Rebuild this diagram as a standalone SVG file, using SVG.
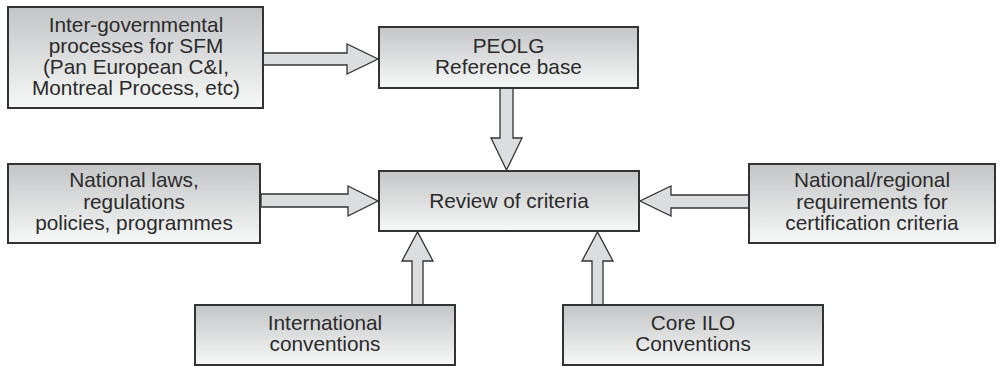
<svg xmlns="http://www.w3.org/2000/svg" width="1004" height="366" viewBox="0 0 1004 366">
  <defs>
    <linearGradient id="boxFill" x1="0" y1="0" x2="0" y2="1">
      <stop offset="0" stop-color="#c4c5c6"/>
      <stop offset="1" stop-color="#f6f7f7"/>
    </linearGradient>
  </defs>
  <style>
    .box { fill: url(#boxFill); stroke: #333; stroke-width: 2; }
    .arrow { fill: #dcddde; stroke: #333; stroke-width: 1.3; stroke-linejoin: miter; }
    text { font-family: "Liberation Sans", Arial, sans-serif; font-size: 20.8px; fill: #2b2b2b; text-anchor: middle; }
  </style>

  <g id="connectors">
    <polygon class="arrow" points="263,53 347,53 347,44 378,59 347,74 347,65 263,65"/>
    <polygon class="arrow" points="500,88 513,88 513,138 522,138 506.5,170 491,138 500,138"/>
    <polygon class="arrow" points="261,194 348,194 348,186 378,201 348,216 348,207 261,207"/>
    <polygon class="arrow" points="749,195 671,195 671,186 640,201 671,216 671,208 749,208"/>
    <polygon class="arrow" points="412,305 412,261 402,261 417.5,232 433,261 423,261 423,305"/>
    <polygon class="arrow" points="592,305 592,261 582,261 597.5,232 613,261 603,261 603,305"/>
  </g>

  <g id="intergov">
    <rect class="box" x="8" y="7" width="255" height="101"/>
    <text x="136" y="32">Inter-governmental</text>
    <text x="136" y="53">processes for SFM</text>
    <text x="136" y="74">(Pan European C&amp;I,</text>
    <text x="136" y="95">Montreal Process, etc)</text>
  </g>

  <g id="peolg">
    <rect class="box" x="379" y="27" width="259" height="61"/>
    <text x="508.5" y="53">PEOLG</text>
    <text x="508.5" y="74">Reference base</text>
  </g>

  <g id="review">
    <rect class="box" x="379" y="171" width="260" height="60"/>
    <text x="509" y="208">Review of criteria</text>
  </g>

  <g id="national-laws">
    <rect class="box" x="8" y="164" width="252" height="79"/>
    <text x="134" y="187">National laws,</text>
    <text x="134" y="208.5">regulations</text>
    <text x="134" y="230">policies, programmes</text>
  </g>

  <g id="national-regional">
    <rect class="box" x="749" y="164" width="246" height="79"/>
    <text x="872" y="187">National/regional</text>
    <text x="872" y="208.5">requirements for</text>
    <text x="872" y="230">certification criteria</text>
  </g>

  <g id="international">
    <rect class="box" x="195" y="305" width="260" height="60"/>
    <text x="325" y="330">International</text>
    <text x="325" y="351">conventions</text>
  </g>

  <g id="core-ilo">
    <rect class="box" x="563" y="305" width="260" height="60"/>
    <text x="693" y="330">Core ILO</text>
    <text x="693" y="351">Conventions</text>
  </g>
</svg>
